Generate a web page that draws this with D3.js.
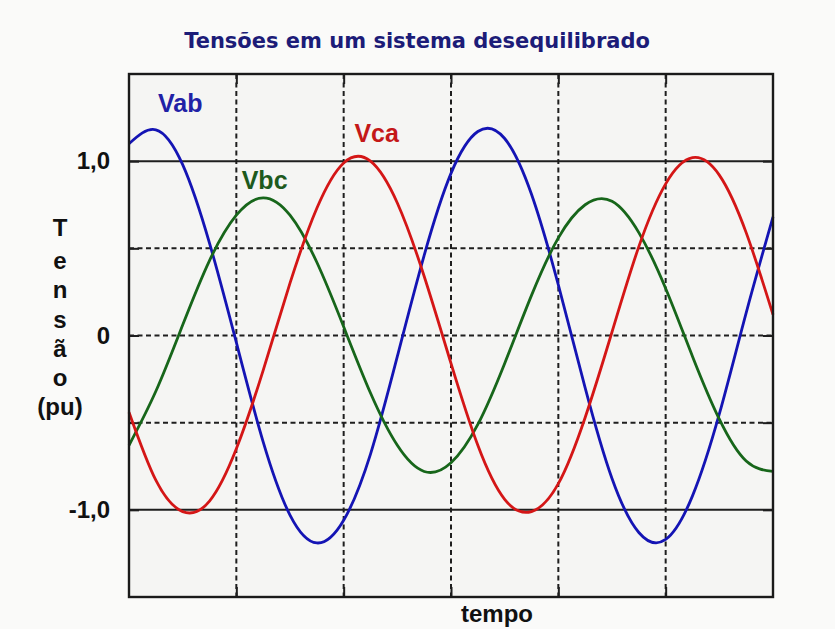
<!DOCTYPE html>
<html>
<head>
<meta charset="utf-8">
<script src="https://cdn.jsdelivr.net/npm/d3@7"></script>
<style>
  body { margin: 0; background: #fafaf9; }
  svg { display: block; }
</style>
</head>
<body>
<div id="viz-container"></div>
<script>
// time samples (in grid divisions) and the three line voltages (pu)
let tempo = [0, 0.25, 0.5, 0.75, 1, 1.25, 1.5, 1.75, 2, 2.25, 2.5, 2.75, 3,
  3.25, 3.5, 3.75, 4, 4.25, 4.5, 4.75, 5, 5.25, 5.5, 5.75, 6];

let vab = [1.10, 1.18, 0.98, 0.53, -0.04, -0.61, -1.03, -1.19, -1.06, -0.68, -0.12, 0.46, 0.93,
  1.17, 1.13, 0.81, 0.29, -0.30, -0.82, -1.13, -1.17, -0.92, -0.45, 0.13, 0.68];
let vbc = [-0.63, -0.32, 0.06, 0.43, 0.69, 0.79, 0.69, 0.42, 0.05, -0.33, -0.63, -0.78, -0.73,
  -0.51, -0.16, 0.23, 0.56, 0.75, 0.77, 0.59, 0.27, -0.12, -0.48, -0.72, -0.78];
let vca = [-0.44, -0.83, -1.01, -0.95, -0.65, -0.20, 0.30, 0.73, 0.99, 1.00, 0.76, 0.34, -0.16,
  -0.63, -0.94, -1.01, -0.85, -0.47, 0.02, 0.51, 0.87, 1.02, 0.92, 0.59, 0.12];

let seriesNames = ["Vab", "Vbc", "Vca"];
// where each name sits, in data units
let labelTempo = [0.27, 1.05, 2.1];
let labelValue = [1.28, 0.84, 1.11];

let yTicks = [-1, -0.5, 0, 0.5, 1];
let yTickLabels = {"-1": "-1,0", "0": "0", "1": "1,0"};
let xTicks = [1, 2, 3, 4, 5];
let yLetters = ["T", "e", "n", "s", "ã", "o", "(pu)"];

let colors = {Vab: "#1414b4", Vbc: "#17661a", Vca: "#d41616"};
let labelColors = {Vab: "#2121a6", Vbc: "#1d5a1d", Vca: "#c41818"};

let w = 835, h = 629;
let plotLeft = 129, plotRight = 773, plotTop = 74, plotBottom = 597;

let viz = d3.select("#viz-container")
  .append("svg")
    .attr("width", w)
    .attr("height", h)
  ;

let x = d3.scaleLinear().domain([0, 6]).range([plotLeft, plotRight]);
let y = d3.scaleLinear().domain([-1.5, 1.5]).range([plotBottom, plotTop]);

// plot background
viz.append("rect")
    .attr("x", plotLeft).attr("y", plotTop)
    .attr("width", plotRight - plotLeft).attr("height", plotBottom - plotTop)
    .attr("fill", "#f5f5f3");

// grid
viz.selectAll(".vgrid").data(xTicks).enter()
  .append("line")
    .attr("class", "vgrid")
    .attr("x1", d => x(d)).attr("x2", d => x(d))
    .attr("y1", plotTop).attr("y2", plotBottom)
    .attr("stroke", "#1e1e1e")
    .attr("stroke-width", 2)
    .attr("stroke-dasharray", "5,3.5");

viz.selectAll(".hgrid").data(yTicks).enter()
  .append("line")
    .attr("class", "hgrid")
    .attr("x1", plotLeft).attr("x2", plotRight)
    .attr("y1", d => y(d)).attr("y2", d => y(d))
    .attr("stroke", "#1e1e1e")
    .attr("stroke-width", 2)
    .attr("stroke-dasharray", d => Math.abs(d) == 1 ? null : "5,3.5");

// inward ticks on all four sides
function styleAxis(g){
  g.select(".domain").remove();
  g.selectAll(".tick line").attr("stroke", "#1e1e1e").attr("stroke-width", 2);
}

viz.append("g")
    .attr("transform", `translate(0,${plotBottom})`)
    .call(d3.axisBottom(x).tickValues(xTicks).tickSize(-10).tickFormat(""))
    .call(styleAxis);
viz.append("g")
    .attr("transform", `translate(0,${plotTop})`)
    .call(d3.axisTop(x).tickValues(xTicks).tickSize(-10).tickFormat(""))
    .call(styleAxis);
viz.append("g")
    .attr("transform", `translate(${plotRight},0)`)
    .call(d3.axisRight(y).tickValues(yTicks).tickSize(-10).tickFormat(""))
    .call(styleAxis);

let yAxis = viz.append("g")
    .attr("transform", `translate(${plotLeft},0)`)
    .call(d3.axisLeft(y).tickValues(yTicks).tickSize(-10).tickPadding(19)
      .tickFormat(d => yTickLabels[d] || ""))
    .call(styleAxis);
yAxis.selectAll(".tick text")
    .style("font-family", "'Liberation Sans', Arial, sans-serif")
    .style("font-weight", "bold")
    .style("font-size", "24px")
    .attr("fill", "#111");

// curves
let series = seriesNames.map(function(name, i){
  let vals = [vab, vbc, vca][i];
  return {name: name, points: tempo.map((t, j) => [t, vals[j]])};
});

let line = d3.line()
    .x(d => x(d[0]))
    .y(d => y(d[1]))
    .curve(d3.curveNatural);

viz.append("g")
  .selectAll("path").data(series).enter()
  .append("path")
    .attr("d", d => line(d.points))
    .attr("fill", "none")
    .attr("stroke", d => colors[d.name])
    .attr("stroke-width", 2.8)
    .attr("stroke-linejoin", "round");

// border
viz.append("rect")
    .attr("x", plotLeft).attr("y", plotTop)
    .attr("width", plotRight - plotLeft).attr("height", plotBottom - plotTop)
    .attr("fill", "none")
    .attr("stroke", "#1a1a1a")
    .attr("stroke-width", 2.4);

// series names
viz.selectAll(".sname").data(seriesNames).enter()
  .append("text")
    .attr("class", "sname")
    .attr("x", (d, i) => x(labelTempo[i]))
    .attr("y", (d, i) => y(labelValue[i]))
    .style("font-family", "'Liberation Sans', Arial, sans-serif")
    .style("font-weight", "bold")
    .style("font-size", "25px")
    .attr("fill", d => labelColors[d])
    .text(d => d);

// title
viz.append("text")
    .attr("x", 417)
    .attr("y", 48)
    .attr("text-anchor", "middle")
    .style("font-family", "'DejaVu Sans', Verdana, sans-serif")
    .style("font-weight", "bold")
    .style("font-size", "21px")
    .attr("fill", "#1c1c78")
    .text("Tensões em um sistema desequilibrado");

// y title, one letter per row
viz.selectAll(".yletter").data(yLetters).enter()
  .append("text")
    .attr("class", "yletter")
    .attr("x", 60)
    .attr("y", (d, i) => i == 0 ? 236 : 240 + i * 29.2)
    .attr("text-anchor", "middle")
    .style("font-family", "'Liberation Sans', Arial, sans-serif")
    .style("font-weight", "bold")
    .style("font-size", "24px")
    .attr("fill", "#111")
    .text(d => d);

// x title
viz.append("text")
    .attr("x", 497)
    .attr("y", 622)
    .attr("text-anchor", "middle")
    .style("font-family", "'Liberation Sans', Arial, sans-serif")
    .style("font-weight", "bold")
    .style("font-size", "24px")
    .attr("fill", "#111")
    .text("tempo");
</script>
</body>
</html>
